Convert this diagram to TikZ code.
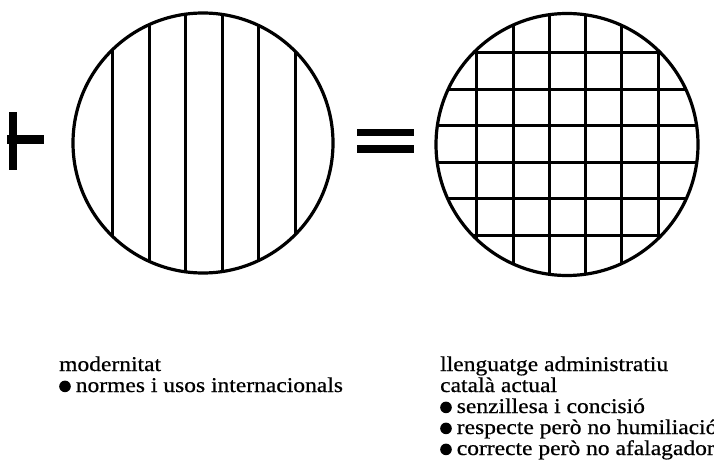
\documentclass[tikz,border=0pt]{standalone}
\usepackage{fontspec}
\setmainfont{Liberation Serif}[FakeStretch=1.12,FakeBold=0.6]
\newcommand\blt{\tikz[baseline=0pt]\fill (5.8pt,5.6pt) circle[radius=5.8pt];\hspace{5pt}}
\begin{document}
\begin{tikzpicture}[x=1pt,y=-1pt,
  ring/.style={line width=3.2pt},
  hatch/.style={line width=3pt},
  lbl/.style={anchor=base west, inner sep=0pt, text height=14pt, text depth=4pt,
    font=\fontsize{21}{21}\selectfont},
  bar/.style={fill=black}]
\useasboundingbox (0,0) rectangle (714,465);
% plus sign
\fill[bar] (9,112) rectangle (17,170);
\fill[bar] (7,135) rectangle (44,144);
% left circle with vertical lines
\coordinate (lc) at (203,143);
\begin{scope}
  \clip (lc) circle (130);
  \foreach \k in {0,...,5}
    \draw[hatch] ({204+36.5*(\k-2.5)},0) -- ({204+36.5*(\k-2.5)},300);
\end{scope}
\draw[ring] (lc) circle (130);
% equals sign
\fill[bar] (357,129) rectangle (414,136);
\fill[bar] (357,145) rectangle (414,153);
% right circle with grid
\coordinate (rc) at (567,144.5);
\begin{scope}
  \clip (rc) circle (131);
  \foreach \k in {0,...,5} {
    \draw[hatch] ({567.5+36.3*(\k-2.5)},0) -- ({567.5+36.3*(\k-2.5)},300);
    \draw[hatch] (420,{144+36.4*(\k-2.5)}) -- (714,{144+36.4*(\k-2.5)});
  }
\end{scope}
\draw[ring] (rc) circle (131);
% texts
\node[lbl] (l1) at (59,371) {modernitat};
\node[lbl] (l2) at (59,392) {\blt normes i usos internacionals};
\node[lbl] (r1) at (440,371) {llenguatge administratiu};
\node[lbl] (r2) at (440,392) {català actual};
\node[lbl] (r3) at (440,413) {\blt senzillesa i concisió};
\node[lbl] (r4) at (440,434) {\blt respecte però no humiliació};
\node[lbl] (r5) at (440,455) {\blt correcte però no afalagador};
\end{tikzpicture}
\end{document}
